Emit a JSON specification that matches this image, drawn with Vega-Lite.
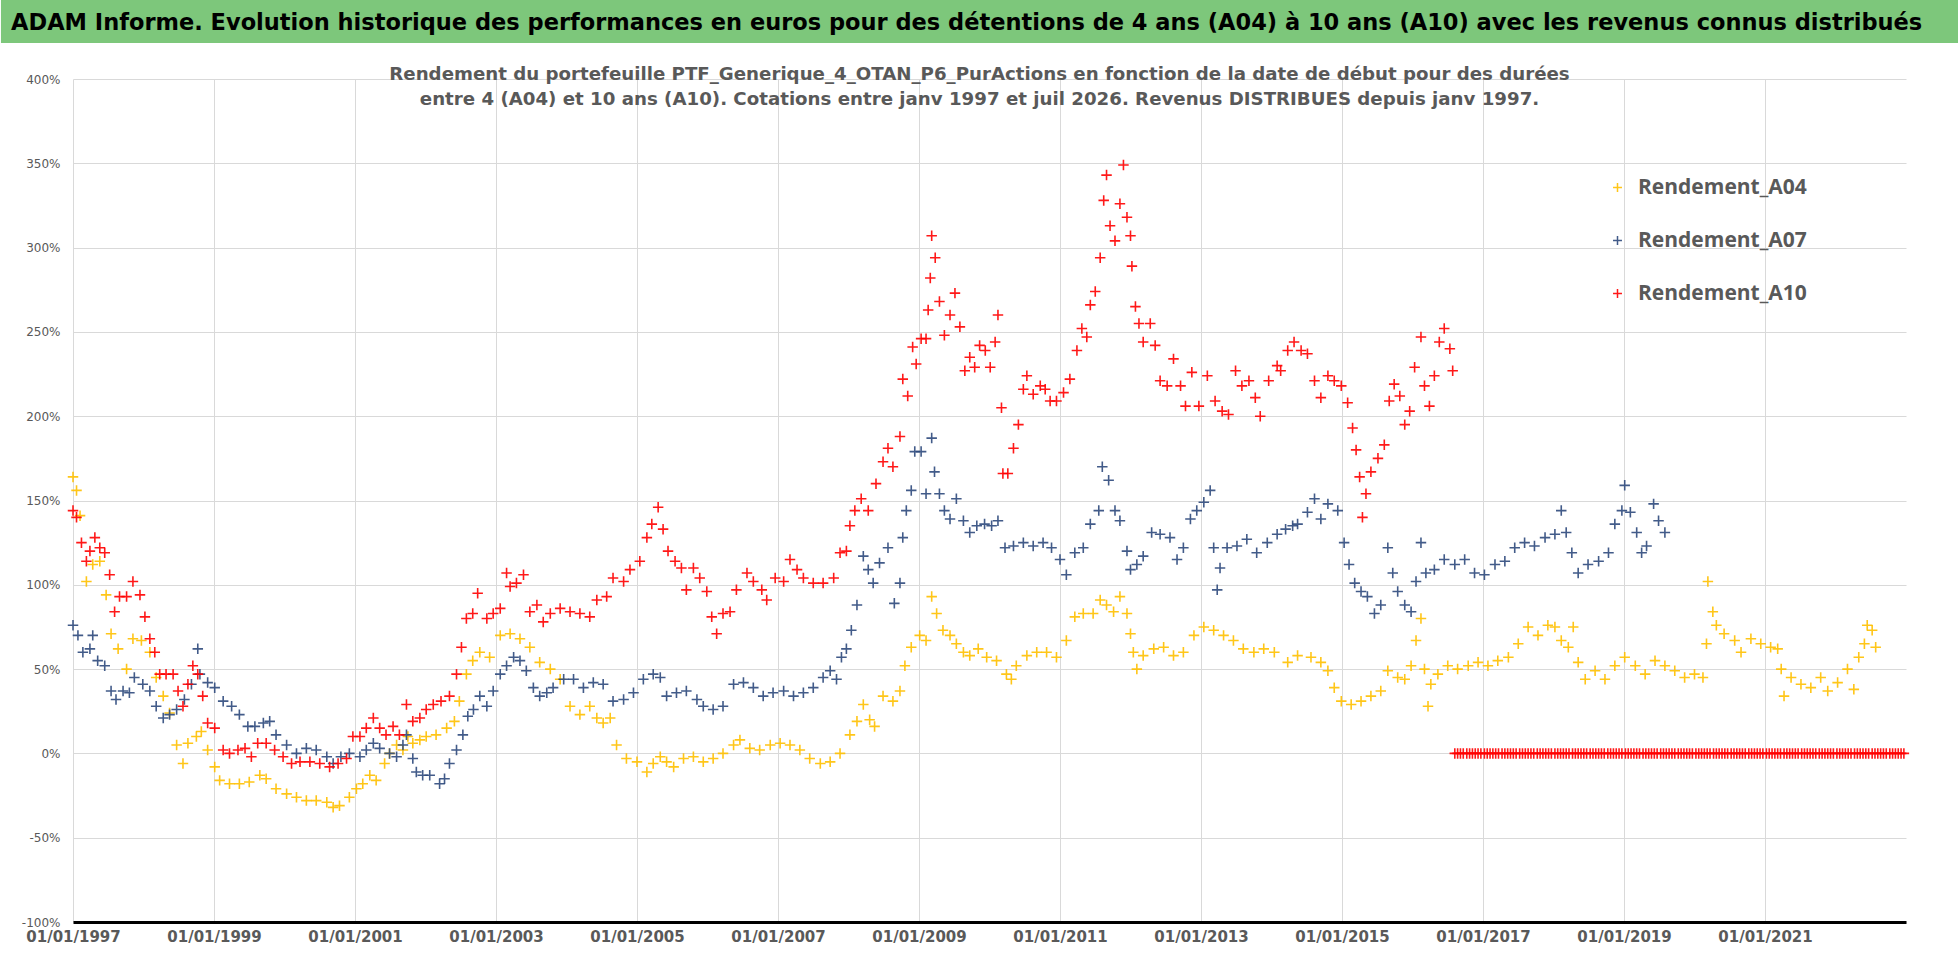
{
"$schema": "https://vega.github.io/schema/vega-lite/v6.json",
"padding": 0,
"background": "white",
"spacing": 21,
"config": {"view": {"stroke": null}, "font": "DejaVu Sans"},
"vconcat": [
{
"width": 1833, "height": 43,
"data": {"values": [{"t": "ADAM Informe. Evolution historique des performances en euros pour des détentions de 4 ans (A04) à 10 ans (A10) avec les revenus connus distribués"}]},
"layer": [
{"mark": {"type": "rect", "color": "#7DC77B", "clip": false},
"encoding": {
"x": {"datum": -0.0393, "type": "quantitative", "scale": {"domain": [0, 1], "nice": false, "zero": false}, "axis": null},
"x2": {"datum": 1.0289},
"y": {"datum": 0, "type": "quantitative", "scale": {"domain": [0, 1], "nice": false, "zero": false}, "axis": null},
"y2": {"datum": 1}
}},
{"mark": {"type": "text", "align": "left", "baseline": "middle", "fontSize": 22.5, "fontWeight": "bold", "color": "#000000", "font": "DejaVu Sans", "clip": false},
"encoding": {
"x": {"datum": -0.0338, "type": "quantitative"},
"y": {"datum": 0.47, "type": "quantitative"},
"text": {"field": "t", "type": "nominal"}
}}
]
},
{
"width": 1833, "height": 843,
"title": {"text": ["Rendement du portefeuille PTF_Generique_4_OTAN_P6_PurActions  en fonction de la date de début pour des durées", "entre 4 (A04) et 10 ans (A10). Cotations entre janv 1997 et juil 2026. Revenus DISTRIBUES depuis janv 1997."], "anchor": "middle", "orient": "top", "offset": -36, "dx": -10, "fontSize": 18.2, "fontWeight": "bold", "color": "#595959", "lineHeight": 25, "font": "DejaVu Sans", "baseline": "top"},
"data": {"values": [
{"t":1997.0,"s":"A04","v":164},{"t":1997.05,"s":"A04","v":156},{"t":1997.1,"s":"A04","v":141},{"t":1997.19,"s":"A04","v":102},{"t":1997.28,"s":"A04","v":112},{"t":1997.38,"s":"A04","v":114},{"t":1997.47,"s":"A04","v":94},{"t":1997.54,"s":"A04","v":71},{"t":1997.64,"s":"A04","v":62},{"t":1997.76,"s":"A04","v":50},{"t":1997.85,"s":"A04","v":68},{"t":1997.97,"s":"A04","v":67},{"t":1998.09,"s":"A04","v":60},{"t":1998.18,"s":"A04","v":45},{"t":1998.28,"s":"A04","v":34},{"t":1998.37,"s":"A04","v":24},{"t":1998.47,"s":"A04","v":5},{"t":1998.56,"s":"A04","v":-6},{"t":1998.63,"s":"A04","v":6},{"t":1998.75,"s":"A04","v":10},{"t":1998.82,"s":"A04","v":13},{"t":1998.91,"s":"A04","v":2},{"t":1999.01,"s":"A04","v":-8},{"t":1999.08,"s":"A04","v":-16},{"t":1999.22,"s":"A04","v":-18},{"t":1999.36,"s":"A04","v":-18},{"t":1999.5,"s":"A04","v":-17},{"t":1999.65,"s":"A04","v":-13},{"t":1999.74,"s":"A04","v":-15},{"t":1999.88,"s":"A04","v":-21},{"t":2000.03,"s":"A04","v":-24},{"t":2000.17,"s":"A04","v":-26},{"t":2000.31,"s":"A04","v":-28},{"t":2000.45,"s":"A04","v":-28},{"t":2000.6,"s":"A04","v":-29},{"t":2000.69,"s":"A04","v":-32},{"t":2000.78,"s":"A04","v":-31},{"t":2000.92,"s":"A04","v":-26},{"t":2001.02,"s":"A04","v":-21},{"t":2001.11,"s":"A04","v":-18},{"t":2001.21,"s":"A04","v":-13},{"t":2001.3,"s":"A04","v":-16},{"t":2001.42,"s":"A04","v":-6},{"t":2001.49,"s":"A04","v":0},{"t":2001.59,"s":"A04","v":5},{"t":2001.68,"s":"A04","v":2},{"t":2001.75,"s":"A04","v":10},{"t":2001.82,"s":"A04","v":6},{"t":2001.92,"s":"A04","v":8},{"t":2002.01,"s":"A04","v":10},{"t":2002.15,"s":"A04","v":11},{"t":2002.3,"s":"A04","v":15},{"t":2002.41,"s":"A04","v":19},{"t":2002.48,"s":"A04","v":31},{"t":2002.58,"s":"A04","v":47},{"t":2002.67,"s":"A04","v":55},{"t":2002.77,"s":"A04","v":60},{"t":2002.91,"s":"A04","v":57},{"t":2003.06,"s":"A04","v":70},{"t":2003.2,"s":"A04","v":71},{"t":2003.34,"s":"A04","v":68},{"t":2003.48,"s":"A04","v":63},{"t":2003.62,"s":"A04","v":54},{"t":2003.77,"s":"A04","v":50},{"t":2003.91,"s":"A04","v":44},{"t":2004.05,"s":"A04","v":28},{"t":2004.19,"s":"A04","v":23},{"t":2004.33,"s":"A04","v":28},{"t":2004.43,"s":"A04","v":21},{"t":2004.52,"s":"A04","v":18},{"t":2004.62,"s":"A04","v":21},{"t":2004.71,"s":"A04","v":5},{"t":2004.85,"s":"A04","v":-3},{"t":2005.0,"s":"A04","v":-5},{"t":2005.14,"s":"A04","v":-11},{"t":2005.23,"s":"A04","v":-6},{"t":2005.33,"s":"A04","v":-2},{"t":2005.42,"s":"A04","v":-5},{"t":2005.52,"s":"A04","v":-8},{"t":2005.66,"s":"A04","v":-3},{"t":2005.8,"s":"A04","v":-2},{"t":2005.94,"s":"A04","v":-5},{"t":2006.08,"s":"A04","v":-3},{"t":2006.22,"s":"A04","v":0},{"t":2006.37,"s":"A04","v":5},{"t":2006.46,"s":"A04","v":8},{"t":2006.6,"s":"A04","v":3},{"t":2006.74,"s":"A04","v":2},{"t":2006.89,"s":"A04","v":5},{"t":2007.03,"s":"A04","v":6},{"t":2007.17,"s":"A04","v":5},{"t":2007.31,"s":"A04","v":2},{"t":2007.45,"s":"A04","v":-3},{"t":2007.6,"s":"A04","v":-6},{"t":2007.74,"s":"A04","v":-5},{"t":2007.88,"s":"A04","v":0},{"t":2008.02,"s":"A04","v":11},{"t":2008.12,"s":"A04","v":19},{"t":2008.21,"s":"A04","v":29},{"t":2008.3,"s":"A04","v":20},{"t":2008.37,"s":"A04","v":16},{"t":2008.49,"s":"A04","v":34},{"t":2008.63,"s":"A04","v":31},{"t":2008.73,"s":"A04","v":37},{"t":2008.8,"s":"A04","v":52},{"t":2008.89,"s":"A04","v":63},{"t":2009.01,"s":"A04","v":70},{"t":2009.1,"s":"A04","v":67},{"t":2009.18,"s":"A04","v":93},{"t":2009.25,"s":"A04","v":83},{"t":2009.34,"s":"A04","v":73},{"t":2009.44,"s":"A04","v":70},{"t":2009.53,"s":"A04","v":65},{"t":2009.63,"s":"A04","v":60},{"t":2009.72,"s":"A04","v":58},{"t":2009.84,"s":"A04","v":62},{"t":2009.96,"s":"A04","v":57},{"t":2010.1,"s":"A04","v":55},{"t":2010.24,"s":"A04","v":47},{"t":2010.31,"s":"A04","v":44},{"t":2010.38,"s":"A04","v":52},{"t":2010.53,"s":"A04","v":58},{"t":2010.67,"s":"A04","v":60},{"t":2010.81,"s":"A04","v":60},{"t":2010.95,"s":"A04","v":57},{"t":2011.09,"s":"A04","v":67},{"t":2011.21,"s":"A04","v":81},{"t":2011.33,"s":"A04","v":83},{"t":2011.47,"s":"A04","v":83},{"t":2011.57,"s":"A04","v":91},{"t":2011.66,"s":"A04","v":88},{"t":2011.76,"s":"A04","v":84},{"t":2011.85,"s":"A04","v":93},{"t":2011.95,"s":"A04","v":83},{"t":2012.0,"s":"A04","v":71},{"t":2012.04,"s":"A04","v":60},{"t":2012.09,"s":"A04","v":50},{"t":2012.18,"s":"A04","v":58},{"t":2012.33,"s":"A04","v":62},{"t":2012.47,"s":"A04","v":63},{"t":2012.61,"s":"A04","v":58},{"t":2012.75,"s":"A04","v":60},{"t":2012.9,"s":"A04","v":70},{"t":2013.04,"s":"A04","v":75},{"t":2013.18,"s":"A04","v":73},{"t":2013.32,"s":"A04","v":70},{"t":2013.46,"s":"A04","v":67},{"t":2013.6,"s":"A04","v":62},{"t":2013.75,"s":"A04","v":60},{"t":2013.89,"s":"A04","v":62},{"t":2014.04,"s":"A04","v":60},{"t":2014.23,"s":"A04","v":54},{"t":2014.37,"s":"A04","v":58},{"t":2014.56,"s":"A04","v":57},{"t":2014.7,"s":"A04","v":54},{"t":2014.8,"s":"A04","v":49},{"t":2014.89,"s":"A04","v":39},{"t":2014.99,"s":"A04","v":31},{"t":2015.13,"s":"A04","v":29},{"t":2015.27,"s":"A04","v":31},{"t":2015.41,"s":"A04","v":34},{"t":2015.55,"s":"A04","v":37},{"t":2015.65,"s":"A04","v":49},{"t":2015.79,"s":"A04","v":45},{"t":2015.89,"s":"A04","v":44},{"t":2015.98,"s":"A04","v":52},{"t":2016.05,"s":"A04","v":67},{"t":2016.12,"s":"A04","v":80},{"t":2016.17,"s":"A04","v":50},{"t":2016.22,"s":"A04","v":28},{"t":2016.26,"s":"A04","v":41},{"t":2016.36,"s":"A04","v":47},{"t":2016.5,"s":"A04","v":52},{"t":2016.64,"s":"A04","v":50},{"t":2016.79,"s":"A04","v":52},{"t":2016.93,"s":"A04","v":54},{"t":2017.07,"s":"A04","v":52},{"t":2017.21,"s":"A04","v":55},{"t":2017.36,"s":"A04","v":57},{"t":2017.5,"s":"A04","v":65},{"t":2017.64,"s":"A04","v":75},{"t":2017.78,"s":"A04","v":70},{"t":2017.92,"s":"A04","v":76},{"t":2018.02,"s":"A04","v":75},{"t":2018.11,"s":"A04","v":67},{"t":2018.21,"s":"A04","v":63},{"t":2018.28,"s":"A04","v":75},{"t":2018.35,"s":"A04","v":54},{"t":2018.45,"s":"A04","v":44},{"t":2018.59,"s":"A04","v":49},{"t":2018.73,"s":"A04","v":44},{"t":2018.87,"s":"A04","v":52},{"t":2019.01,"s":"A04","v":57},{"t":2019.16,"s":"A04","v":52},{"t":2019.3,"s":"A04","v":47},{"t":2019.44,"s":"A04","v":55},{"t":2019.58,"s":"A04","v":52},{"t":2019.72,"s":"A04","v":49},{"t":2019.86,"s":"A04","v":45},{"t":2020.0,"s":"A04","v":47},{"t":2020.12,"s":"A04","v":45},{"t":2020.17,"s":"A04","v":65},{"t":2020.19,"s":"A04","v":102},{"t":2020.26,"s":"A04","v":84},{"t":2020.31,"s":"A04","v":76},{"t":2020.42,"s":"A04","v":71},{"t":2020.57,"s":"A04","v":67},{"t":2020.66,"s":"A04","v":60},{"t":2020.8,"s":"A04","v":68},{"t":2020.94,"s":"A04","v":65},{"t":2021.08,"s":"A04","v":63},{"t":2021.18,"s":"A04","v":62},{"t":2021.23,"s":"A04","v":50},{"t":2021.27,"s":"A04","v":34},{"t":2021.37,"s":"A04","v":45},{"t":2021.51,"s":"A04","v":41},{"t":2021.65,"s":"A04","v":39},{"t":2021.79,"s":"A04","v":45},{"t":2021.89,"s":"A04","v":37},{"t":2022.03,"s":"A04","v":42},{"t":2022.17,"s":"A04","v":50},{"t":2022.26,"s":"A04","v":38},{"t":2022.33,"s":"A04","v":57},{"t":2022.41,"s":"A04","v":65},{"t":2022.45,"s":"A04","v":76},{"t":2022.52,"s":"A04","v":73},{"t":2022.57,"s":"A04","v":63},
{"t":1997.0,"s":"A07","v":76},{"t":1997.07,"s":"A07","v":70},{"t":1997.14,"s":"A07","v":60},{"t":1997.24,"s":"A07","v":62},{"t":1997.28,"s":"A07","v":70},{"t":1997.35,"s":"A07","v":55},{"t":1997.45,"s":"A07","v":52},{"t":1997.54,"s":"A07","v":37},{"t":1997.61,"s":"A07","v":32},{"t":1997.71,"s":"A07","v":37},{"t":1997.8,"s":"A07","v":36},{"t":1997.87,"s":"A07","v":45},{"t":1997.99,"s":"A07","v":41},{"t":1998.09,"s":"A07","v":37},{"t":1998.18,"s":"A07","v":28},{"t":1998.28,"s":"A07","v":21},{"t":1998.37,"s":"A07","v":23},{"t":1998.47,"s":"A07","v":26},{"t":1998.58,"s":"A07","v":32},{"t":1998.68,"s":"A07","v":41},{"t":1998.77,"s":"A07","v":62},{"t":1998.8,"s":"A07","v":47},{"t":1998.91,"s":"A07","v":42},{"t":1999.01,"s":"A07","v":39},{"t":1999.13,"s":"A07","v":31},{"t":1999.25,"s":"A07","v":28},{"t":1999.36,"s":"A07","v":23},{"t":1999.48,"s":"A07","v":16},{"t":1999.58,"s":"A07","v":16},{"t":1999.7,"s":"A07","v":18},{"t":1999.79,"s":"A07","v":19},{"t":1999.88,"s":"A07","v":11},{"t":2000.03,"s":"A07","v":5},{"t":2000.17,"s":"A07","v":0},{"t":2000.31,"s":"A07","v":3},{"t":2000.45,"s":"A07","v":2},{"t":2000.6,"s":"A07","v":-2},{"t":2000.69,"s":"A07","v":-6},{"t":2000.8,"s":"A07","v":-2},{"t":2000.92,"s":"A07","v":0},{"t":2001.07,"s":"A07","v":-2},{"t":2001.16,"s":"A07","v":2},{"t":2001.26,"s":"A07","v":6},{"t":2001.35,"s":"A07","v":3},{"t":2001.49,"s":"A07","v":0},{"t":2001.59,"s":"A07","v":-2},{"t":2001.68,"s":"A07","v":5},{"t":2001.73,"s":"A07","v":11},{"t":2001.82,"s":"A07","v":-3},{"t":2001.87,"s":"A07","v":-11},{"t":2001.96,"s":"A07","v":-13},{"t":2002.06,"s":"A07","v":-13},{"t":2002.2,"s":"A07","v":-18},{"t":2002.27,"s":"A07","v":-15},{"t":2002.34,"s":"A07","v":-6},{"t":2002.44,"s":"A07","v":2},{"t":2002.53,"s":"A07","v":11},{"t":2002.6,"s":"A07","v":22},{"t":2002.68,"s":"A07","v":26},{"t":2002.77,"s":"A07","v":34},{"t":2002.87,"s":"A07","v":28},{"t":2002.96,"s":"A07","v":37},{"t":2003.06,"s":"A07","v":47},{"t":2003.15,"s":"A07","v":52},{"t":2003.25,"s":"A07","v":57},{"t":2003.34,"s":"A07","v":55},{"t":2003.43,"s":"A07","v":49},{"t":2003.53,"s":"A07","v":39},{"t":2003.62,"s":"A07","v":34},{"t":2003.72,"s":"A07","v":36},{"t":2003.81,"s":"A07","v":39},{"t":2003.96,"s":"A07","v":44},{"t":2004.1,"s":"A07","v":44},{"t":2004.24,"s":"A07","v":39},{"t":2004.38,"s":"A07","v":42},{"t":2004.52,"s":"A07","v":41},{"t":2004.66,"s":"A07","v":31},{"t":2004.81,"s":"A07","v":32},{"t":2004.95,"s":"A07","v":36},{"t":2005.09,"s":"A07","v":44},{"t":2005.23,"s":"A07","v":47},{"t":2005.33,"s":"A07","v":45},{"t":2005.42,"s":"A07","v":34},{"t":2005.56,"s":"A07","v":36},{"t":2005.7,"s":"A07","v":37},{"t":2005.85,"s":"A07","v":32},{"t":2005.94,"s":"A07","v":28},{"t":2006.08,"s":"A07","v":26},{"t":2006.22,"s":"A07","v":28},{"t":2006.37,"s":"A07","v":41},{"t":2006.51,"s":"A07","v":42},{"t":2006.65,"s":"A07","v":39},{"t":2006.79,"s":"A07","v":34},{"t":2006.93,"s":"A07","v":36},{"t":2007.08,"s":"A07","v":37},{"t":2007.22,"s":"A07","v":34},{"t":2007.36,"s":"A07","v":36},{"t":2007.5,"s":"A07","v":39},{"t":2007.64,"s":"A07","v":45},{"t":2007.74,"s":"A07","v":49},{"t":2007.83,"s":"A07","v":44},{"t":2007.9,"s":"A07","v":57},{"t":2007.97,"s":"A07","v":62},{"t":2008.04,"s":"A07","v":73},{"t":2008.12,"s":"A07","v":88},{"t":2008.21,"s":"A07","v":117},{"t":2008.28,"s":"A07","v":109},{"t":2008.35,"s":"A07","v":101},{"t":2008.44,"s":"A07","v":113},{"t":2008.56,"s":"A07","v":122},{"t":2008.65,"s":"A07","v":89},{"t":2008.73,"s":"A07","v":101},{"t":2008.77,"s":"A07","v":128},{"t":2008.82,"s":"A07","v":144},{"t":2008.89,"s":"A07","v":156},{"t":2008.94,"s":"A07","v":179},{"t":2009.03,"s":"A07","v":179},{"t":2009.1,"s":"A07","v":154},{"t":2009.18,"s":"A07","v":187},{"t":2009.22,"s":"A07","v":167},{"t":2009.29,"s":"A07","v":154},{"t":2009.36,"s":"A07","v":144},{"t":2009.44,"s":"A07","v":139},{"t":2009.53,"s":"A07","v":151},{"t":2009.63,"s":"A07","v":138},{"t":2009.72,"s":"A07","v":131},{"t":2009.82,"s":"A07","v":135},{"t":2009.93,"s":"A07","v":136},{"t":2010.03,"s":"A07","v":135},{"t":2010.12,"s":"A07","v":138},{"t":2010.22,"s":"A07","v":122},{"t":2010.34,"s":"A07","v":123},{"t":2010.48,"s":"A07","v":125},{"t":2010.62,"s":"A07","v":123},{"t":2010.76,"s":"A07","v":125},{"t":2010.88,"s":"A07","v":122},{"t":2011.0,"s":"A07","v":115},{"t":2011.09,"s":"A07","v":106},{"t":2011.21,"s":"A07","v":119},{"t":2011.33,"s":"A07","v":122},{"t":2011.43,"s":"A07","v":136},{"t":2011.55,"s":"A07","v":144},{"t":2011.6,"s":"A07","v":170},{"t":2011.69,"s":"A07","v":162},{"t":2011.78,"s":"A07","v":144},{"t":2011.85,"s":"A07","v":138},{"t":2011.95,"s":"A07","v":120},{"t":2012.0,"s":"A07","v":109},{"t":2012.09,"s":"A07","v":112},{"t":2012.18,"s":"A07","v":117},{"t":2012.3,"s":"A07","v":131},{"t":2012.42,"s":"A07","v":130},{"t":2012.56,"s":"A07","v":128},{"t":2012.66,"s":"A07","v":115},{"t":2012.75,"s":"A07","v":122},{"t":2012.85,"s":"A07","v":139},{"t":2012.94,"s":"A07","v":144},{"t":2013.04,"s":"A07","v":149},{"t":2013.13,"s":"A07","v":156},{"t":2013.18,"s":"A07","v":122},{"t":2013.23,"s":"A07","v":97},{"t":2013.27,"s":"A07","v":110},{"t":2013.37,"s":"A07","v":122},{"t":2013.51,"s":"A07","v":123},{"t":2013.65,"s":"A07","v":127},{"t":2013.79,"s":"A07","v":119},{"t":2013.94,"s":"A07","v":125},{"t":2014.08,"s":"A07","v":130},{"t":2014.2,"s":"A07","v":133},{"t":2014.3,"s":"A07","v":135},{"t":2014.37,"s":"A07","v":136},{"t":2014.51,"s":"A07","v":143},{"t":2014.61,"s":"A07","v":151},{"t":2014.7,"s":"A07","v":139},{"t":2014.8,"s":"A07","v":148},{"t":2014.94,"s":"A07","v":144},{"t":2015.03,"s":"A07","v":125},{"t":2015.1,"s":"A07","v":112},{"t":2015.18,"s":"A07","v":101},{"t":2015.27,"s":"A07","v":96},{"t":2015.36,"s":"A07","v":93},{"t":2015.46,"s":"A07","v":83},{"t":2015.55,"s":"A07","v":88},{"t":2015.65,"s":"A07","v":122},{"t":2015.72,"s":"A07","v":107},{"t":2015.79,"s":"A07","v":96},{"t":2015.89,"s":"A07","v":88},{"t":2015.98,"s":"A07","v":84},{"t":2016.05,"s":"A07","v":102},{"t":2016.12,"s":"A07","v":125},{"t":2016.19,"s":"A07","v":107},{"t":2016.31,"s":"A07","v":109},{"t":2016.45,"s":"A07","v":115},{"t":2016.6,"s":"A07","v":112},{"t":2016.74,"s":"A07","v":115},{"t":2016.88,"s":"A07","v":107},{"t":2017.02,"s":"A07","v":106},{"t":2017.17,"s":"A07","v":112},{"t":2017.31,"s":"A07","v":114},{"t":2017.45,"s":"A07","v":122},{"t":2017.59,"s":"A07","v":125},{"t":2017.73,"s":"A07","v":123},{"t":2017.88,"s":"A07","v":128},{"t":2018.02,"s":"A07","v":130},{"t":2018.11,"s":"A07","v":144},{"t":2018.18,"s":"A07","v":131},{"t":2018.26,"s":"A07","v":119},{"t":2018.35,"s":"A07","v":107},{"t":2018.49,"s":"A07","v":112},{"t":2018.64,"s":"A07","v":114},{"t":2018.78,"s":"A07","v":119},{"t":2018.87,"s":"A07","v":136},{"t":2018.97,"s":"A07","v":144},{"t":2019.01,"s":"A07","v":159},{"t":2019.09,"s":"A07","v":143},{"t":2019.18,"s":"A07","v":131},{"t":2019.25,"s":"A07","v":119},{"t":2019.32,"s":"A07","v":123},{"t":2019.42,"s":"A07","v":148},{"t":2019.49,"s":"A07","v":138},{"t":2019.58,"s":"A07","v":131},
{"t":1997.0,"s":"A10","v":144},{"t":1997.05,"s":"A10","v":140},{"t":1997.12,"s":"A10","v":125},{"t":1997.19,"s":"A10","v":114},{"t":1997.24,"s":"A10","v":120},{"t":1997.31,"s":"A10","v":128},{"t":1997.38,"s":"A10","v":122},{"t":1997.45,"s":"A10","v":119},{"t":1997.52,"s":"A10","v":106},{"t":1997.59,"s":"A10","v":84},{"t":1997.66,"s":"A10","v":93},{"t":1997.76,"s":"A10","v":93},{"t":1997.85,"s":"A10","v":102},{"t":1997.95,"s":"A10","v":94},{"t":1998.02,"s":"A10","v":81},{"t":1998.09,"s":"A10","v":68},{"t":1998.16,"s":"A10","v":60},{"t":1998.23,"s":"A10","v":47},{"t":1998.32,"s":"A10","v":47},{"t":1998.42,"s":"A10","v":47},{"t":1998.49,"s":"A10","v":37},{"t":1998.56,"s":"A10","v":28},{"t":1998.63,"s":"A10","v":41},{"t":1998.7,"s":"A10","v":52},{"t":1998.77,"s":"A10","v":47},{"t":1998.84,"s":"A10","v":34},{"t":1998.91,"s":"A10","v":18},{"t":1999.01,"s":"A10","v":15},{"t":1999.13,"s":"A10","v":2},{"t":1999.22,"s":"A10","v":0},{"t":1999.34,"s":"A10","v":2},{"t":1999.44,"s":"A10","v":3},{"t":1999.53,"s":"A10","v":-2},{"t":1999.62,"s":"A10","v":6},{"t":1999.74,"s":"A10","v":6},{"t":1999.86,"s":"A10","v":2},{"t":1999.98,"s":"A10","v":-2},{"t":2000.1,"s":"A10","v":-6},{"t":2000.22,"s":"A10","v":-5},{"t":2000.36,"s":"A10","v":-5},{"t":2000.5,"s":"A10","v":-6},{"t":2000.64,"s":"A10","v":-8},{"t":2000.76,"s":"A10","v":-6},{"t":2000.88,"s":"A10","v":-3},{"t":2000.97,"s":"A10","v":10},{"t":2001.07,"s":"A10","v":10},{"t":2001.16,"s":"A10","v":15},{"t":2001.26,"s":"A10","v":21},{"t":2001.35,"s":"A10","v":15},{"t":2001.44,"s":"A10","v":11},{"t":2001.54,"s":"A10","v":16},{"t":2001.63,"s":"A10","v":11},{"t":2001.73,"s":"A10","v":29},{"t":2001.82,"s":"A10","v":19},{"t":2001.92,"s":"A10","v":21},{"t":2002.01,"s":"A10","v":26},{"t":2002.11,"s":"A10","v":29},{"t":2002.22,"s":"A10","v":31},{"t":2002.34,"s":"A10","v":34},{"t":2002.44,"s":"A10","v":47},{"t":2002.51,"s":"A10","v":63},{"t":2002.58,"s":"A10","v":80},{"t":2002.67,"s":"A10","v":83},{"t":2002.74,"s":"A10","v":95},{"t":2002.87,"s":"A10","v":80},{"t":2002.96,"s":"A10","v":83},{"t":2003.06,"s":"A10","v":86},{"t":2003.15,"s":"A10","v":107},{"t":2003.2,"s":"A10","v":99},{"t":2003.29,"s":"A10","v":101},{"t":2003.39,"s":"A10","v":106},{"t":2003.48,"s":"A10","v":84},{"t":2003.58,"s":"A10","v":88},{"t":2003.67,"s":"A10","v":78},{"t":2003.77,"s":"A10","v":83},{"t":2003.91,"s":"A10","v":86},{"t":2004.05,"s":"A10","v":84},{"t":2004.19,"s":"A10","v":83},{"t":2004.33,"s":"A10","v":81},{"t":2004.43,"s":"A10","v":91},{"t":2004.57,"s":"A10","v":93},{"t":2004.66,"s":"A10","v":104},{"t":2004.81,"s":"A10","v":102},{"t":2004.9,"s":"A10","v":109},{"t":2005.04,"s":"A10","v":114},{"t":2005.14,"s":"A10","v":128},{"t":2005.21,"s":"A10","v":136},{"t":2005.3,"s":"A10","v":146},{"t":2005.37,"s":"A10","v":133},{"t":2005.44,"s":"A10","v":120},{"t":2005.54,"s":"A10","v":114},{"t":2005.63,"s":"A10","v":110},{"t":2005.7,"s":"A10","v":97},{"t":2005.8,"s":"A10","v":110},{"t":2005.89,"s":"A10","v":104},{"t":2005.99,"s":"A10","v":96},{"t":2006.06,"s":"A10","v":81},{"t":2006.13,"s":"A10","v":71},{"t":2006.22,"s":"A10","v":83},{"t":2006.32,"s":"A10","v":84},{"t":2006.41,"s":"A10","v":97},{"t":2006.56,"s":"A10","v":107},{"t":2006.65,"s":"A10","v":102},{"t":2006.77,"s":"A10","v":97},{"t":2006.84,"s":"A10","v":91},{"t":2006.96,"s":"A10","v":104},{"t":2007.08,"s":"A10","v":102},{"t":2007.17,"s":"A10","v":115},{"t":2007.27,"s":"A10","v":109},{"t":2007.36,"s":"A10","v":104},{"t":2007.5,"s":"A10","v":101},{"t":2007.64,"s":"A10","v":101},{"t":2007.79,"s":"A10","v":104},{"t":2007.88,"s":"A10","v":119},{"t":2007.97,"s":"A10","v":120},{"t":2008.02,"s":"A10","v":135},{"t":2008.09,"s":"A10","v":144},{"t":2008.18,"s":"A10","v":151},{"t":2008.28,"s":"A10","v":144},{"t":2008.39,"s":"A10","v":160},{"t":2008.49,"s":"A10","v":173},{"t":2008.56,"s":"A10","v":181},{"t":2008.63,"s":"A10","v":170},{"t":2008.73,"s":"A10","v":188},{"t":2008.77,"s":"A10","v":222},{"t":2008.84,"s":"A10","v":212},{"t":2008.91,"s":"A10","v":241},{"t":2008.96,"s":"A10","v":231},{"t":2009.03,"s":"A10","v":246},{"t":2009.1,"s":"A10","v":246},{"t":2009.13,"s":"A10","v":263},{"t":2009.16,"s":"A10","v":282},{"t":2009.18,"s":"A10","v":307},{"t":2009.23,"s":"A10","v":294},{"t":2009.29,"s":"A10","v":268},{"t":2009.36,"s":"A10","v":248},{"t":2009.44,"s":"A10","v":260},{"t":2009.51,"s":"A10","v":273},{"t":2009.58,"s":"A10","v":253},{"t":2009.65,"s":"A10","v":227},{"t":2009.72,"s":"A10","v":235},{"t":2009.79,"s":"A10","v":229},{"t":2009.86,"s":"A10","v":242},{"t":2009.94,"s":"A10","v":239},{"t":2010.01,"s":"A10","v":229},{"t":2010.08,"s":"A10","v":244},{"t":2010.12,"s":"A10","v":260},{"t":2010.17,"s":"A10","v":205},{"t":2010.19,"s":"A10","v":166},{"t":2010.26,"s":"A10","v":166},{"t":2010.34,"s":"A10","v":181},{"t":2010.41,"s":"A10","v":195},{"t":2010.48,"s":"A10","v":216},{"t":2010.53,"s":"A10","v":224},{"t":2010.62,"s":"A10","v":213},{"t":2010.72,"s":"A10","v":218},{"t":2010.79,"s":"A10","v":216},{"t":2010.86,"s":"A10","v":209},{"t":2010.95,"s":"A10","v":209},{"t":2011.05,"s":"A10","v":214},{"t":2011.14,"s":"A10","v":222},{"t":2011.24,"s":"A10","v":239},{"t":2011.31,"s":"A10","v":252},{"t":2011.38,"s":"A10","v":247},{"t":2011.43,"s":"A10","v":266},{"t":2011.5,"s":"A10","v":274},{"t":2011.57,"s":"A10","v":294},{"t":2011.62,"s":"A10","v":328},{"t":2011.66,"s":"A10","v":343},{"t":2011.71,"s":"A10","v":313},{"t":2011.78,"s":"A10","v":304},{"t":2011.85,"s":"A10","v":326},{"t":2011.9,"s":"A10","v":349},{"t":2011.95,"s":"A10","v":318},{"t":2012.0,"s":"A10","v":307},{"t":2012.02,"s":"A10","v":289},{"t":2012.07,"s":"A10","v":265},{"t":2012.12,"s":"A10","v":255},{"t":2012.18,"s":"A10","v":244},{"t":2012.28,"s":"A10","v":255},{"t":2012.35,"s":"A10","v":242},{"t":2012.42,"s":"A10","v":221},{"t":2012.52,"s":"A10","v":218},{"t":2012.61,"s":"A10","v":234},{"t":2012.71,"s":"A10","v":218},{"t":2012.78,"s":"A10","v":206},{"t":2012.87,"s":"A10","v":226},{"t":2012.97,"s":"A10","v":206},{"t":2013.09,"s":"A10","v":224},{"t":2013.2,"s":"A10","v":209},{"t":2013.3,"s":"A10","v":203},{"t":2013.39,"s":"A10","v":201},{"t":2013.49,"s":"A10","v":227},{"t":2013.58,"s":"A10","v":218},{"t":2013.68,"s":"A10","v":221},{"t":2013.77,"s":"A10","v":211},{"t":2013.84,"s":"A10","v":200},{"t":2013.96,"s":"A10","v":221},{"t":2014.08,"s":"A10","v":230},{"t":2014.13,"s":"A10","v":227},{"t":2014.23,"s":"A10","v":239},{"t":2014.32,"s":"A10","v":244},{"t":2014.42,"s":"A10","v":239},{"t":2014.51,"s":"A10","v":237},{"t":2014.61,"s":"A10","v":221},{"t":2014.7,"s":"A10","v":211},{"t":2014.8,"s":"A10","v":224},{"t":2014.89,"s":"A10","v":221},{"t":2014.99,"s":"A10","v":218},{"t":2015.08,"s":"A10","v":208},{"t":2015.15,"s":"A10","v":193},{"t":2015.2,"s":"A10","v":180},{"t":2015.25,"s":"A10","v":164},{"t":2015.29,"s":"A10","v":140},{"t":2015.34,"s":"A10","v":154},{"t":2015.41,"s":"A10","v":167},{"t":2015.51,"s":"A10","v":175},{"t":2015.6,"s":"A10","v":183},{"t":2015.67,"s":"A10","v":209},{"t":2015.74,"s":"A10","v":219},{"t":2015.82,"s":"A10","v":212},{"t":2015.89,"s":"A10","v":195},{"t":2015.96,"s":"A10","v":203},{"t":2016.03,"s":"A10","v":229},{"t":2016.12,"s":"A10","v":247},{"t":2016.17,"s":"A10","v":218},{"t":2016.24,"s":"A10","v":206},{"t":2016.31,"s":"A10","v":224},{"t":2016.38,"s":"A10","v":244},{"t":2016.45,"s":"A10","v":252},{"t":2016.53,"s":"A10","v":240},{"t":2016.57,"s":"A10","v":227},
{"t":2016.6,"s":"A10","v":0},{"t":2016.64,"s":"A10","v":0},{"t":2016.68,"s":"A10","v":0},{"t":2016.72,"s":"A10","v":0},{"t":2016.77,"s":"A10","v":0},{"t":2016.81,"s":"A10","v":0},{"t":2016.85,"s":"A10","v":0},{"t":2016.89,"s":"A10","v":0},{"t":2016.93,"s":"A10","v":0},{"t":2016.97,"s":"A10","v":0},{"t":2017.02,"s":"A10","v":0},{"t":2017.06,"s":"A10","v":0},{"t":2017.1,"s":"A10","v":0},{"t":2017.14,"s":"A10","v":0},{"t":2017.18,"s":"A10","v":0},{"t":2017.22,"s":"A10","v":0},{"t":2017.27,"s":"A10","v":0},{"t":2017.31,"s":"A10","v":0},{"t":2017.35,"s":"A10","v":0},{"t":2017.39,"s":"A10","v":0},{"t":2017.43,"s":"A10","v":0},{"t":2017.47,"s":"A10","v":0},{"t":2017.52,"s":"A10","v":0},{"t":2017.56,"s":"A10","v":0},{"t":2017.6,"s":"A10","v":0},{"t":2017.64,"s":"A10","v":0},{"t":2017.68,"s":"A10","v":0},{"t":2017.72,"s":"A10","v":0},{"t":2017.77,"s":"A10","v":0},{"t":2017.81,"s":"A10","v":0},{"t":2017.85,"s":"A10","v":0},{"t":2017.89,"s":"A10","v":0},{"t":2017.93,"s":"A10","v":0},{"t":2017.97,"s":"A10","v":0},{"t":2018.02,"s":"A10","v":0},{"t":2018.06,"s":"A10","v":0},{"t":2018.1,"s":"A10","v":0},{"t":2018.14,"s":"A10","v":0},{"t":2018.18,"s":"A10","v":0},{"t":2018.22,"s":"A10","v":0},{"t":2018.27,"s":"A10","v":0},{"t":2018.31,"s":"A10","v":0},{"t":2018.35,"s":"A10","v":0},{"t":2018.39,"s":"A10","v":0},{"t":2018.43,"s":"A10","v":0},{"t":2018.47,"s":"A10","v":0},{"t":2018.52,"s":"A10","v":0},{"t":2018.56,"s":"A10","v":0},{"t":2018.6,"s":"A10","v":0},{"t":2018.64,"s":"A10","v":0},{"t":2018.68,"s":"A10","v":0},{"t":2018.72,"s":"A10","v":0},{"t":2018.77,"s":"A10","v":0},{"t":2018.81,"s":"A10","v":0},{"t":2018.85,"s":"A10","v":0},{"t":2018.89,"s":"A10","v":0},{"t":2018.93,"s":"A10","v":0},{"t":2018.97,"s":"A10","v":0},{"t":2019.02,"s":"A10","v":0},{"t":2019.06,"s":"A10","v":0},{"t":2019.1,"s":"A10","v":0},{"t":2019.14,"s":"A10","v":0},{"t":2019.18,"s":"A10","v":0},{"t":2019.22,"s":"A10","v":0},{"t":2019.27,"s":"A10","v":0},{"t":2019.31,"s":"A10","v":0},{"t":2019.35,"s":"A10","v":0},{"t":2019.39,"s":"A10","v":0},{"t":2019.43,"s":"A10","v":0},{"t":2019.47,"s":"A10","v":0},{"t":2019.52,"s":"A10","v":0},{"t":2019.56,"s":"A10","v":0},{"t":2019.6,"s":"A10","v":0},{"t":2019.64,"s":"A10","v":0},{"t":2019.68,"s":"A10","v":0},{"t":2019.72,"s":"A10","v":0},{"t":2019.77,"s":"A10","v":0},{"t":2019.81,"s":"A10","v":0},{"t":2019.85,"s":"A10","v":0},{"t":2019.89,"s":"A10","v":0},{"t":2019.93,"s":"A10","v":0},{"t":2019.97,"s":"A10","v":0},{"t":2020.02,"s":"A10","v":0},{"t":2020.06,"s":"A10","v":0},{"t":2020.1,"s":"A10","v":0},{"t":2020.14,"s":"A10","v":0},{"t":2020.18,"s":"A10","v":0},{"t":2020.22,"s":"A10","v":0},{"t":2020.27,"s":"A10","v":0},{"t":2020.31,"s":"A10","v":0},{"t":2020.35,"s":"A10","v":0},{"t":2020.39,"s":"A10","v":0},{"t":2020.43,"s":"A10","v":0},{"t":2020.47,"s":"A10","v":0},{"t":2020.52,"s":"A10","v":0},{"t":2020.56,"s":"A10","v":0},{"t":2020.6,"s":"A10","v":0},{"t":2020.64,"s":"A10","v":0},{"t":2020.68,"s":"A10","v":0},{"t":2020.72,"s":"A10","v":0},{"t":2020.77,"s":"A10","v":0},{"t":2020.81,"s":"A10","v":0},{"t":2020.85,"s":"A10","v":0},{"t":2020.89,"s":"A10","v":0},{"t":2020.93,"s":"A10","v":0},{"t":2020.97,"s":"A10","v":0},{"t":2021.02,"s":"A10","v":0},{"t":2021.06,"s":"A10","v":0},{"t":2021.1,"s":"A10","v":0},{"t":2021.14,"s":"A10","v":0},{"t":2021.18,"s":"A10","v":0},{"t":2021.22,"s":"A10","v":0},{"t":2021.27,"s":"A10","v":0},{"t":2021.31,"s":"A10","v":0},{"t":2021.35,"s":"A10","v":0},{"t":2021.39,"s":"A10","v":0},{"t":2021.43,"s":"A10","v":0},{"t":2021.47,"s":"A10","v":0},{"t":2021.52,"s":"A10","v":0},{"t":2021.56,"s":"A10","v":0},{"t":2021.6,"s":"A10","v":0},{"t":2021.64,"s":"A10","v":0},{"t":2021.68,"s":"A10","v":0},{"t":2021.72,"s":"A10","v":0},{"t":2021.77,"s":"A10","v":0},{"t":2021.81,"s":"A10","v":0},{"t":2021.85,"s":"A10","v":0},{"t":2021.89,"s":"A10","v":0},{"t":2021.93,"s":"A10","v":0},{"t":2021.97,"s":"A10","v":0},{"t":2022.02,"s":"A10","v":0},{"t":2022.06,"s":"A10","v":0},{"t":2022.1,"s":"A10","v":0},{"t":2022.14,"s":"A10","v":0},{"t":2022.18,"s":"A10","v":0},{"t":2022.22,"s":"A10","v":0},{"t":2022.27,"s":"A10","v":0},{"t":2022.31,"s":"A10","v":0},{"t":2022.35,"s":"A10","v":0},{"t":2022.39,"s":"A10","v":0},{"t":2022.43,"s":"A10","v":0},{"t":2022.47,"s":"A10","v":0},{"t":2022.52,"s":"A10","v":0},{"t":2022.56,"s":"A10","v":0},{"t":2022.6,"s":"A10","v":0},{"t":2022.64,"s":"A10","v":0},{"t":2022.68,"s":"A10","v":0},{"t":2022.72,"s":"A10","v":0},{"t":2022.77,"s":"A10","v":0},{"t":2022.81,"s":"A10","v":0},{"t":2022.85,"s":"A10","v":0},{"t":2022.89,"s":"A10","v":0},{"t":2022.93,"s":"A10","v":0},{"t":2022.97,"s":"A10","v":0}
]},
"mark": {"type": "point", "shape": "M-1,0L1,0M0,-1L0,1", "filled": false, "size": 110, "strokeWidth": 1.6, "opacity": 0.9},
"encoding": {
"x": {"field": "t", "type": "quantitative", "scale": {"domain": [1997, 2023], "nice": false, "zero": false},
"axis": {"values": [1997, 1999, 2001, 2003, 2005, 2007, 2009, 2011, 2013, 2015, 2017, 2019, 2021], "labelExpr": "'01/01/' + datum.value", "title": null, "grid": true, "gridColor": "#D9D9D9", "gridWidth": 1, "ticks": false, "domainColor": "#000000", "domainWidth": 3, "labelFontSize": 15, "labelFontWeight": "bold", "labelColor": "#595959", "labelFont": "DejaVu Sans", "labelPadding": 7, "labelFlush": false}},
"y": {"field": "v", "type": "quantitative", "scale": {"domain": [-100, 400], "nice": false, "zero": false},
"axis": {"values": [-100, -50, 0, 50, 100, 150, 200, 250, 300, 350, 400], "labelExpr": "datum.value + '%'", "title": null, "grid": true, "gridColor": "#D9D9D9", "gridWidth": 1, "domain": false, "ticks": false, "labelFontSize": 12, "labelColor": "#595959", "labelFont": "DejaVu Sans", "labelPadding": 13, "minExtent": 72, "maxExtent": 72}},
"color": {"field": "s", "type": "nominal", "scale": {"domain": ["A04", "A07", "A10"], "range": ["#FFC000", "#2E4A7D", "#FF0000"]},
"legend": {"orient": "none", "legendX": 1534, "legendY": 177, "title": null, "labelExpr": "'Rendement_' + datum.label", "labelFontSize": 21, "labelFontWeight": "bold", "labelColor": "#595959", "labelFont": "Open Sans", "labelLimit": 400, "rowPadding": 31, "symbolSize": 80, "symbolStrokeWidth": 1.5, "symbolType": "M-1,0L1,0M0,-1L0,1", "labelOffset": 10}}
}
}
]
}
